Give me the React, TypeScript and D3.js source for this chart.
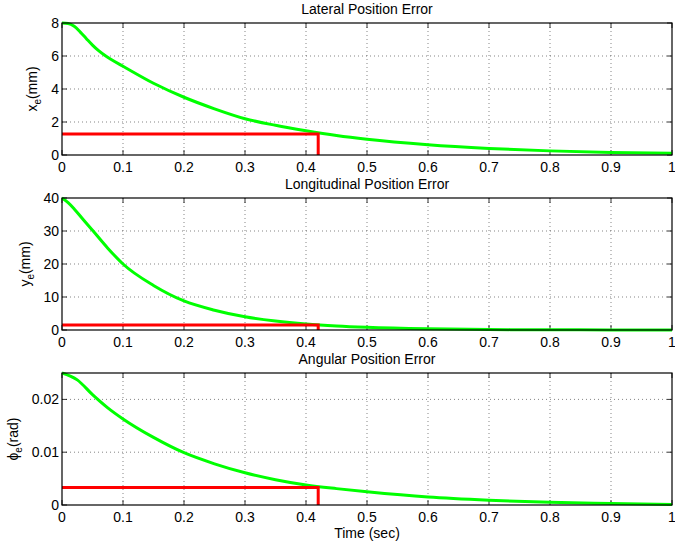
import React from 'react'
import * as d3 from 'd3'

// time samples (sec)
const tLat = [0, 0.01, 0.02, 0.03, 0.04, 0.05, 0.06, 0.07, 0.08, 0.1, 0.15, 0.2, 0.25, 0.3, 0.35, 0.4, 0.45, 0.5, 0.6, 0.7, 0.8, 0.9, 1.0]
const xErr = [8, 7.97, 7.8, 7.45, 7.05, 6.66, 6.32, 6.04, 5.8, 5.38, 4.35, 3.5, 2.8, 2.2, 1.8, 1.47, 1.18, 0.95, 0.62, 0.4, 0.25, 0.15, 0.1]

const tLong = [0, 0.01, 0.02, 0.035, 0.05, 0.075, 0.1, 0.15, 0.2, 0.25, 0.3, 0.35, 0.4, 0.45, 0.5, 0.6, 0.7, 0.8, 0.9, 1.0]
const yErr = [40, 38.6, 36.7, 33.4, 30.2, 24.8, 20, 13.5, 8.8, 6, 4, 2.7, 1.8, 1.2, 0.8, 0.35, 0.15, 0.07, 0.03, 0.01]

const tAng = [0, 0.025, 0.05, 0.075, 0.1, 0.15, 0.2, 0.25, 0.3, 0.35, 0.4, 0.45, 0.5, 0.6, 0.7, 0.8, 0.9, 1.0]
const phiErr = [0.025, 0.0237, 0.0209, 0.0184, 0.0163, 0.0128, 0.0099, 0.0078, 0.0061, 0.0048, 0.0038, 0.0031, 0.0025, 0.0015, 0.0009, 0.0005, 0.0003, 0.0001]

// settling markers: [time, value]
const latMark = [0.42, 1.27]
const longMark = [0.42, 1.5]
const angMark = [0.42, 0.0033]

const xTicks = [0, 0.1, 0.2, 0.3, 0.4, 0.5, 0.6, 0.7, 0.8, 0.9, 1]
const latTicks = [0, 2, 4, 6, 8]
const longTicks = [0, 10, 20, 30, 40]
const angTicks = [0, 0.01, 0.02]

const W = 675
const H = 548
const left = 62
const right = 672
const FONT = 'Liberation Sans, Arial, Helvetica, sans-serif'

type PanelProps = {
  top: number
  bottom: number
  title: string
  t: number[]
  v: number[]
  mark: number[]
  yMax: number
  yTicks: number[]
  sym: string
  unit: string
  labelX: number
}

function Panel({ top, bottom, title, t, v, mark, yMax, yTicks, sym, unit, labelX }: PanelProps) {
  const x = d3.scaleLinear().domain([0, 1]).range([left, right])
  const y = d3.scaleLinear().domain([0, yMax]).range([bottom, top])
  const pts = t.map((d, i) => [d, v[i]] as [number, number])
  const line = d3.line<[number, number]>()
    .x((d) => x(d[0]))
    .y((d) => y(d[1]))
    .curve(d3.curveMonotoneX)
  const tick = 5
  const midY = (top + bottom) / 2
  return (
    <g>
      {/* grid */}
      {xTicks.slice(1, -1).map((d) => (
        <line key={'gx' + d} x1={x(d)} x2={x(d)} y1={top} y2={bottom}
          stroke="#333" strokeWidth={0.6} strokeDasharray="1,3" />
      ))}
      {yTicks.filter((d) => d > 0 && d < yMax).map((d) => (
        <line key={'gy' + d} x1={left} x2={right} y1={y(d)} y2={y(d)}
          stroke="#333" strokeWidth={0.6} strokeDasharray="1,3" />
      ))}
      {/* ticks */}
      {xTicks.map((d) => (
        <g key={'tx' + d}>
          <line x1={x(d)} x2={x(d)} y1={bottom} y2={bottom - tick} stroke="#000" strokeWidth={0.8} />
          <line x1={x(d)} x2={x(d)} y1={top} y2={top + tick} stroke="#000" strokeWidth={0.8} />
          <text x={x(d)} y={bottom + 17} textAnchor="middle" fontSize={14} fontFamily={FONT}>{String(d)}</text>
        </g>
      ))}
      {yTicks.map((d) => (
        <g key={'ty' + d}>
          <line x1={left} x2={left + tick} y1={y(d)} y2={y(d)} stroke="#000" strokeWidth={0.8} />
          <line x1={right} x2={right - tick} y1={y(d)} y2={y(d)} stroke="#000" strokeWidth={0.8} />
          <text x={left - 3} y={y(d) + 5} textAnchor="end" fontSize={14} fontFamily={FONT}>{String(d)}</text>
        </g>
      ))}
      {/* data */}
      <path d={line(pts) ?? ''} fill="none" stroke="#00ff00" strokeWidth={3} />
      <path
        d={`M${x(0)},${y(mark[1])}H${x(mark[0])}V${y(0)}`}
        fill="none" stroke="#ff0000" strokeWidth={3} />
      {/* box */}
      <rect x={left} y={top} width={right - left} height={bottom - top} fill="none" stroke="#000" strokeWidth={1.2} />
      <text x={(left + right) / 2} y={top - 9} textAnchor="middle" fontSize={14} fontFamily={FONT}>{title}</text>
      <text transform={`translate(${labelX},${midY}) rotate(-90)`} textAnchor="middle" fontSize={14} fontFamily={FONT}>
        {sym}
        <tspan fontSize={10} dy={4}>e</tspan>
        <tspan dy={-4}>{unit}</tspan>
      </text>
    </g>
  )
}

export default function App() {
  return (
    <svg width={W} height={H} style={{ display: 'block', position: 'absolute', left: 0, top: 0, background: '#fff' }}>
      <rect width={W} height={H} fill="#fff" />
      <Panel top={23} bottom={155} title="Lateral Position Error" t={tLat} v={xErr} mark={latMark}
        yMax={8} yTicks={latTicks} sym="x" unit="(mm)" labelX={37} />
      <Panel top={198} bottom={330} title="Longitudinal Position Error" t={tLong} v={yErr} mark={longMark}
        yMax={40} yTicks={longTicks} sym="y" unit="(mm)" labelX={30} />
      <Panel top={373} bottom={505} title="Angular Position Error" t={tAng} v={phiErr} mark={angMark}
        yMax={0.025} yTicks={angTicks} sym="ϕ" unit="(rad)" labelX={18} />
      <text x={(left + right) / 2} y={538} textAnchor="middle" fontSize={14} fontFamily={FONT}>Time (sec)</text>
    </svg>
  )
}
